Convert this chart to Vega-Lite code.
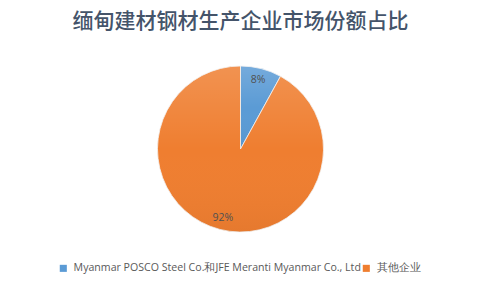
{
  "$schema": "https://vega.github.io/schema/vega-lite/v6.json",
  "autosize": "none",
  "width": 481,
  "height": 198,
  "padding": {"top": 50, "bottom": 41, "left": 0, "right": 0},
  "background": "white",
  "title": {
    "text": "缅甸建材钢材生产企业市场份额占比",
    "font": "Noto Sans CJK SC",
    "fontSize": 21,
    "fontWeight": 500,
    "color": "#44546A",
    "anchor": "middle",
    "offset": 18
  },
  "data": {
    "values": [
      {"company": "Myanmar POSCO Steel Co.和JFE Meranti Myanmar Co., Ltd", "share": 8, "label": "8%", "order": 1},
      {"company": "其他企业", "share": 92, "label": "92%", "order": 2}
    ]
  },
  "encoding": {
    "theta": {"field": "share", "type": "quantitative", "stack": true},
    "order": {"field": "order", "type": "quantitative"}
  },
  "layer": [
    {
      "mark": {"type": "arc", "outerRadius": 83, "stroke": "#f2f2f2", "strokeWidth": 0.8},
      "encoding": {
        "color": {
          "field": "company",
          "type": "nominal",
          "sort": ["Myanmar POSCO Steel Co.和JFE Meranti Myanmar Co., Ltd", "其他企业"],
          "scale": {"range": ["#5B9BD5", "#EF7E30"]},
          "legend": {
            "orient": "none",
            "legendX": 58,
            "legendY": 213,
            "direction": "horizontal",
            "title": null,
            "symbolType": "square",
            "symbolSize": 50,
            "symbolStrokeWidth": 0,
            "labelFont": "Open Sans",
            "labelFontSize": 10.6,
            "labelColor": "#595959",
            "labelLimit": 400,
            "columnPadding": 0,
            "labelOffset": 5
          }
        }
      }
    },
    {
      "mark": {
        "type": "arc",
        "outerRadius": 83,
        "strokeWidth": 0,
        "fill": {
          "gradient": "linear", "x1": 0, "y1": 0, "x2": 0, "y2": 1,
          "stops": [
            {"offset": 0, "color": "rgba(255,255,255,0.16)"},
            {"offset": 0.5, "color": "rgba(255,255,255,0)"},
            {"offset": 1, "color": "rgba(0,0,0,0.04)"}
          ]
        }
      }
    },
    {
      "mark": {"type": "text", "radius": 71, "font": "Open Sans", "fontSize": 10.5, "fill": "#505050"},
      "encoding": {
        "text": {"field": "label", "type": "nominal"}
      }
    }
  ]
}
